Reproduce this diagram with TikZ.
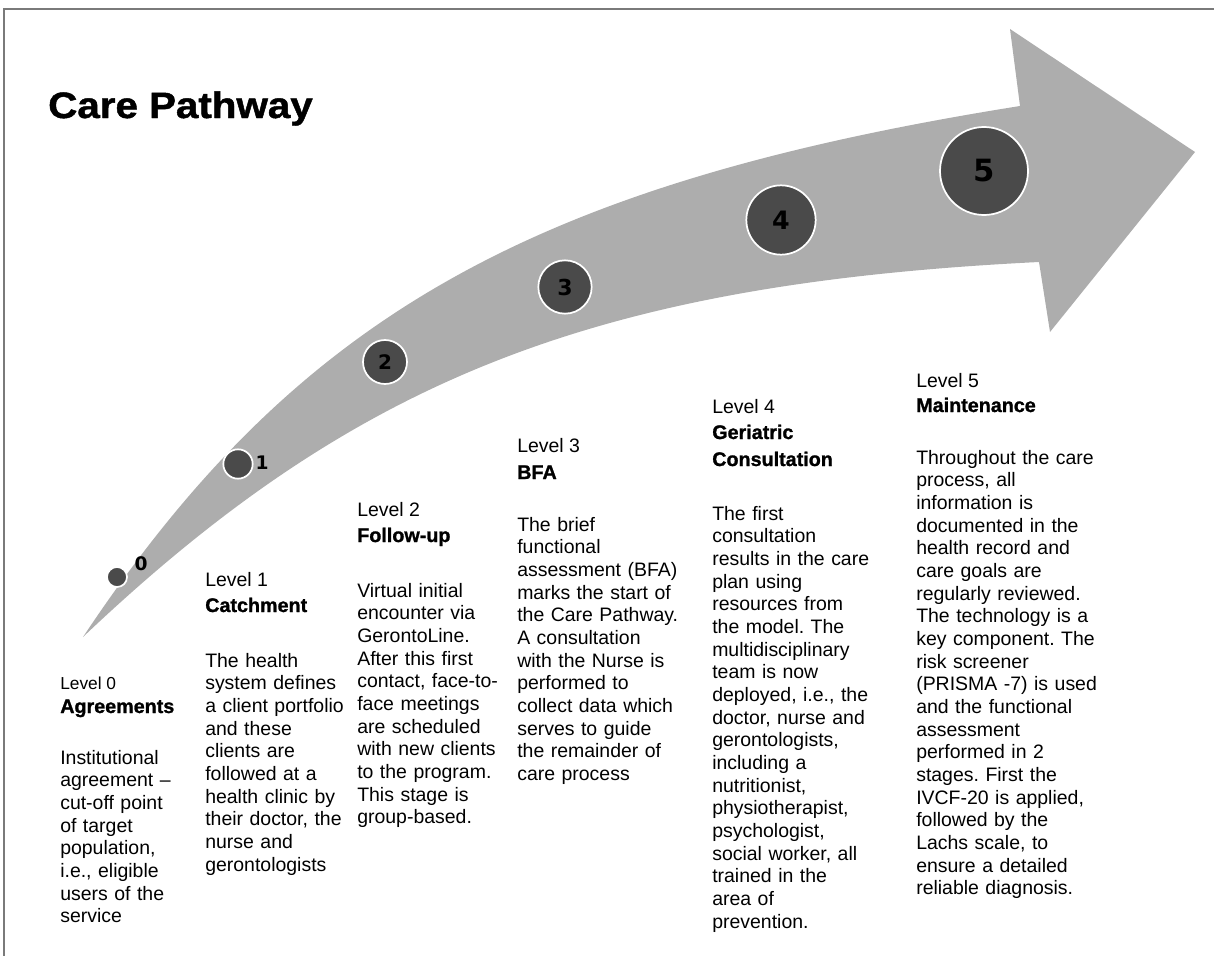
\documentclass[tikz,border=0pt]{standalone}
\usepackage{fontspec}
\usepackage{graphicx}
\setmainfont{Liberation Sans}
\newfontface\hdfont{Liberation Sans Bold}[FakeBold=1.2]
\newfontface\numfont{DejaVu Sans Bold}
\definecolor{arrowgray}{HTML}{ADADAD}
\definecolor{dotgray}{HTML}{4A4A4A}
\definecolor{framegray}{HTML}{7A7A7A}
\frenchspacing
\tikzset{
  bodytext/.style={anchor=base west, inner sep=0pt, text width=220pt, align=left,
    font=\fontsize{14.6pt}{17pt}\selectfont\frenchspacing},
  lvltext/.style={anchor=base west, inner sep=0pt, font=\fontsize{14.6pt}{17pt}\selectfont},
  hdtext/.style={anchor=base west, inner sep=0pt, font=\hdfont\fontsize{14.8pt}{17pt}\selectfont},
  dot/.style={circle, fill=dotgray, draw=white, line width=1.3pt, inner sep=0pt},
  numlab/.style={inner sep=0pt, font=\numfont},
}
\begin{document}
\begin{tikzpicture}[x=0.75pt, y=-0.75pt]
\useasboundingbox (0,0) rectangle (1214,956);
% frame
\draw[framegray, line width=1.3pt] (4,956) -- (4,9) -- (1214,9);
% arrow
\fill[arrowgray] (83,637) .. controls (296,317) and (530,184) .. (1020,106)
  -- (1010,29) -- (1195,152) -- (1050,332) -- (1039,262)
  .. controls (595,284) and (356,378) .. (83,637) -- cycle;
% title
\node[anchor=base west, inner sep=0pt, font=\hdfont\fontsize{27.5pt}{33pt}\selectfont] (title) at (48,118) {\scalebox{1.1}[1]{Care Pathway}};
% circles
\node[dot, minimum size=15pt] (c0) at (117,577) {};
\node[numlab, font=\numfont\fontsize{14pt}{16pt}\selectfont] (n0) at (141,564) {0};
\node[dot, minimum size=22pt] (c1) at (238,464) {};
\node[numlab, font=\numfont\fontsize{14pt}{16pt}\selectfont] (n1) at (262,463) {1};
\node[dot, minimum size=33pt, font=\numfont\fontsize{15pt}{17pt}\selectfont] (c2) at (385,362) {2};
\node[dot, minimum size=40pt, font=\numfont\fontsize{16.5pt}{19pt}\selectfont] (c3) at (565,287) {3};
\node[dot, minimum size=52pt, font=\numfont\fontsize{19pt}{22pt}\selectfont] (c4) at (781,220) {4};
\node[dot, minimum size=66pt, font=\numfont\fontsize{23pt}{26pt}\selectfont] (c5) at (984,171) {5};
% column 0
\node[lvltext, font=\fontsize{13pt}{17pt}\selectfont] (l0) at (60,689) {Level 0};
\node[hdtext] (h0) at (60,713) {Agreements};
\node[bodytext] (b0) at (60,764) {Institutional\\agreement --\\cut-off point\\of target\\population,\\i.e., eligible\\users of the\\service};
% column 1
\node[lvltext] (l1) at (205,586) {Level 1};
\node[hdtext] (h1) at (205,612) {Catchment};
\node[bodytext] (b1) at (205,667) {The health\\system defines\\a client portfolio\\and these\\clients are\\followed at a\\health clinic by\\their doctor, the\\nurse and\\gerontologists};
% column 2
\node[lvltext] (l2) at (357,516) {Level 2};
\node[hdtext] (h2) at (357,542) {Follow-up};
\node[bodytext] (b2) at (357,597) {Virtual initial\\encounter via\\GerontoLine.\\After this first\\contact, face-to-\\face meetings\\are scheduled\\with new clients\\to the program.\\This stage is\\group-based.};
% column 3
\node[lvltext] (l3) at (517,452) {Level 3};
\node[hdtext] (h3) at (517,479) {BFA};
\node[bodytext] (b3) at (517,531) {The brief\\functional\\assessment (BFA)\\marks the start of\\the Care Pathway.\\A consultation\\with the Nurse is\\performed to\\collect data which\\serves to guide\\the remainder of\\care process};
% column 4
\node[lvltext] (l4) at (712,413) {Level 4};
\node[hdtext] (h4) at (712,439) {Geriatric};
\node[hdtext] (h4b) at (712,466) {Consultation};
\node[bodytext] (b4) at (712,520) {The first\\consultation\\results in the care\\plan using\\resources from\\the model. The\\multidisciplinary\\team is now\\deployed, i.e., the\\doctor, nurse and\\gerontologists,\\including a\\nutritionist,\\physiotherapist,\\psychologist,\\social worker, all\\trained in the\\area of\\prevention.};
% column 5
\node[lvltext] (l5) at (916,387) {Level 5};
\node[hdtext] (h5) at (916,412) {Maintenance};
\node[bodytext] (b5) at (916,464) {Throughout the care\\process, all\\information is\\documented in the\\health record and\\care goals are\\regularly reviewed.\\The technology is a\\key component. The\\risk screener\\(PRISMA -7) is used\\and the functional\\assessment\\performed in 2\\stages. First the\\IVCF-20 is applied,\\followed by the\\Lachs scale, to\\ensure a detailed\\reliable diagnosis.};
\end{tikzpicture}
\end{document}
